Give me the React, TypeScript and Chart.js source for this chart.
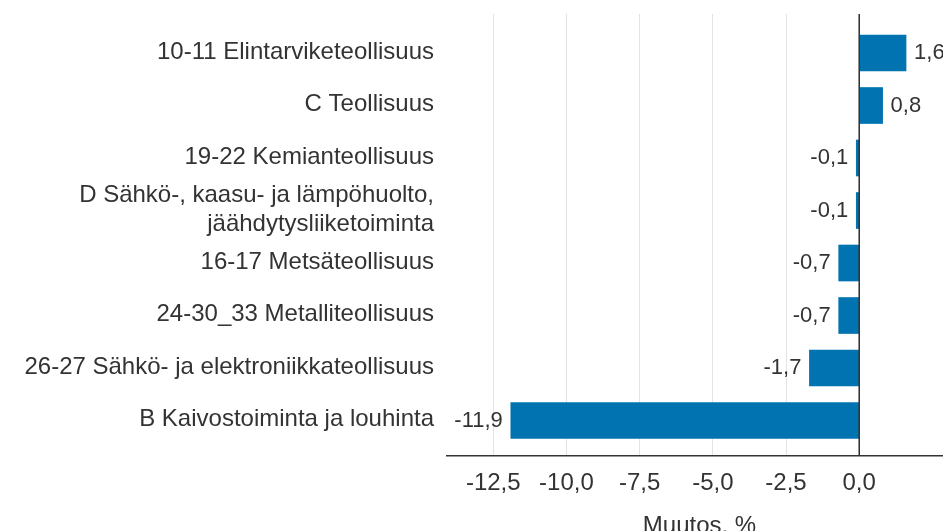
import React, { useEffect, useRef } from 'react';
import { Chart, registerables } from 'chart.js';

Chart.register(...registerables);

const categories: (string | string[])[] = [
  '10-11 Elintarviketeollisuus',
  'C Teollisuus',
  '19-22 Kemianteollisuus',
  ['D Sähkö-, kaasu- ja lämpöhuolto,', 'jäähdytysliiketoiminta'],
  '16-17 Metsäteollisuus',
  '24-30_33 Metalliteollisuus',
  '26-27 Sähkö- ja elektroniikkateollisuus',
  'B Kaivostoiminta ja louhinta',
];
const values = [1.6, 0.8, -0.1, -0.1, -0.7, -0.7, -1.7, -11.9];
const xTicks = [-12.5, -10, -7.5, -5, -2.5, 0];
const axisTitle = 'Muutos, %';

const FONT = "'Liberation Sans', Arial, sans-serif";
const TEXT = '#333333';
const BAR = '#0073b0';
const W = 952;
const H = 545;

const fmt = (v: number) => v.toFixed(1).replace('.', ',');

const valueLabels = {
  id: 'valueLabels',
  afterDatasetsDraw(chart: any) {
    const { ctx, chartArea } = chart;
    const xs = chart.scales.x;
    const zx = xs.getPixelForValue(0);
    ctx.save();
    ctx.strokeStyle = '#333333';
    ctx.lineWidth = 1.5;
    ctx.beginPath();
    ctx.moveTo(zx, chartArea.top);
    ctx.lineTo(zx, chartArea.bottom);
    ctx.stroke();
    ctx.font = `22px ${FONT}`;
    ctx.fillStyle = TEXT;
    ctx.textBaseline = 'middle';
    const meta = chart.getDatasetMeta(0);
    meta.data.forEach((el: any, i: number) => {
      const v = values[i];
      const t = fmt(v);
      if (v >= 0) {
        ctx.textAlign = 'left';
        ctx.fillText(t, el.x + 8, el.y);
      } else {
        ctx.textAlign = 'right';
        ctx.fillText(t, el.x - 8, el.y);
      }
    });
    ctx.restore();
  },
};

export default function App() {
  const ref = useRef<HTMLCanvasElement | null>(null);
  useEffect(() => {
    if (!ref.current) return;
    Chart.defaults.font.family = FONT;
    const chart = new Chart(ref.current, {
      type: 'bar',
      data: {
        datasets: [
          {
            data: values.map((v, i) => ({ x: v, y: i })) as any,
            backgroundColor: BAR,
            borderWidth: 0,
            barThickness: 36,
          },
        ],
      },
      options: {
        indexAxis: 'y',
        animation: false,
        responsive: false,
        devicePixelRatio: 1,
        layout: { padding: { top: 14, left: 0, right: 0, bottom: 0 } },
        plugins: { legend: { display: false }, tooltip: { enabled: false } },
        scales: {
          x: {
            type: 'linear',
            min: -14.08,
            max: 3.17,
            offset: false,
            afterBuildTicks: (s: any) => {
              s.ticks = xTicks.map((v) => ({ value: v }));
            },
            afterFit: (s: any) => {
              s.height = H - 456;
              s.paddingLeft = 0;
              s.paddingRight = 0;
            },
            ticks: {
              font: { size: 24 },
              color: TEXT,
              padding: 13,
              maxRotation: 0,
              autoSkip: false,
              callback: (v: any) => fmt(Number(v)),
            },
            grid: {
              color: (c: any) => (c.tick && c.tick.value === 0 ? '#333333' : '#e3e3e3'),
              lineWidth: 1,
              drawTicks: false,
              offset: false,
            },
            border: { display: true, color: '#333333', width: 1.5 },
            title: {
              display: true,
              text: axisTitle,
              font: { size: 24 },
              color: TEXT,
              padding: { top: 0, bottom: 4 },
            },
          },
          y: {
            type: 'linear',
            reverse: true,
            offset: false,
            min: -0.743,
            max: 7.676,
            afterBuildTicks: (s: any) => {
              s.ticks = categories.map((_, i) => ({ value: i }));
            },
            afterFit: (s: any) => {
              s.width = 447;
              s.paddingTop = 0;
              s.paddingBottom = 0;
            },
            ticks: {
              font: { size: 24 },
              color: TEXT,
              padding: 13,
              autoSkip: false,
              labelOffset: -1,
              callback: (v: any) => categories[Number(v)],
            },
            grid: { display: false, drawTicks: false, offset: false },
            border: { display: false },
          },
        },
      },
      plugins: [valueLabels],
    });
    return () => chart.destroy();
  }, []);

  return (
    <div
      style={{
        position: 'fixed',
        left: 0,
        top: 0,
        width: 943,
        height: 531,
        overflow: 'hidden',
        background: '#ffffff',
      }}
    >
      <canvas ref={ref} width={W} height={H} style={{ display: 'block', width: W, height: H }} />
    </div>
  );
}
